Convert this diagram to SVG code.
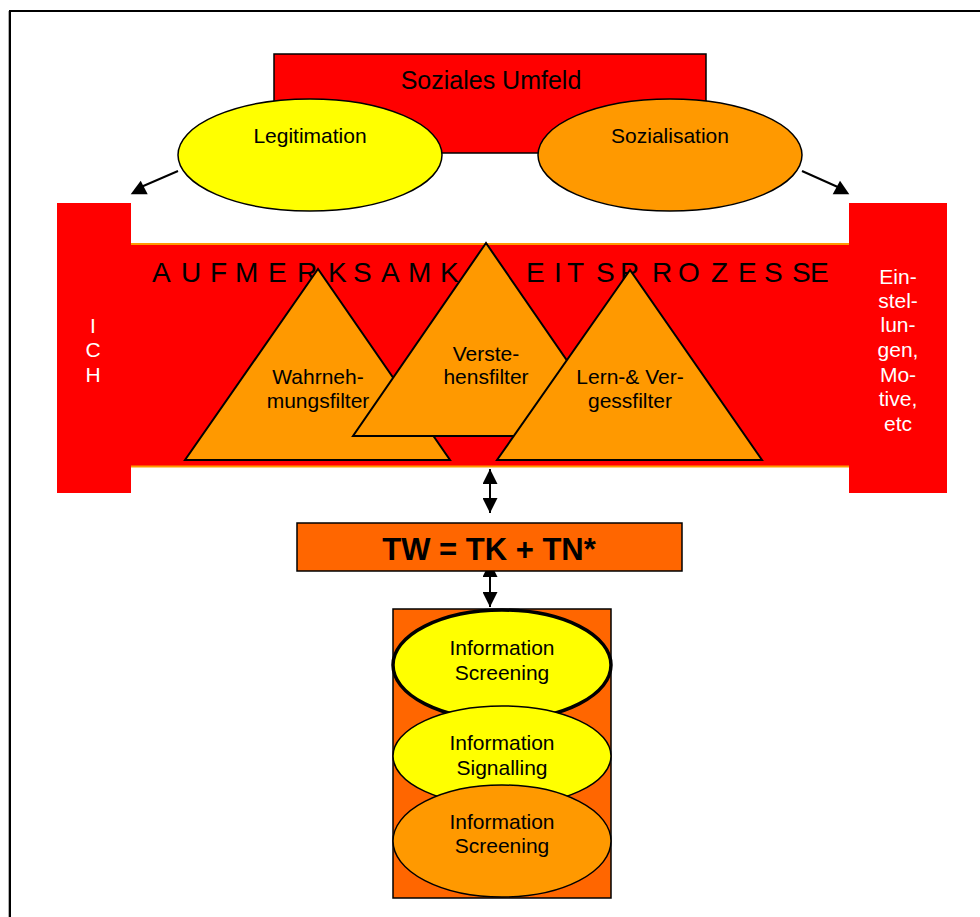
<svg xmlns="http://www.w3.org/2000/svg" width="980" height="917" viewBox="0 0 980 917">
<style>
text{font-family:"Liberation Sans",Arial,sans-serif;fill:#000;}
.c{text-anchor:middle;}
.w{fill:#fff;}
.lbl{font-size:21px;}
.tri{fill:#FF9900;stroke:#000;stroke-width:2;stroke-linejoin:miter;}
.ell{stroke:#000;stroke-width:1.5;}
.conn{stroke:#000;stroke-width:2;fill:none;}
</style>
<defs>
<marker id="ah" viewBox="0 0 10 10" refX="10" refY="5" markerWidth="15" markerHeight="15" markerUnits="userSpaceOnUse" orient="auto-start-reverse">
<path d="M0,0 L10,5 L0,10 z" fill="#000"/>
</marker>
</defs>
<rect width="980" height="917" fill="#fff"/>
<path d="M8.5,917 V11" stroke="#b0b0b0" stroke-width="1" fill="none"/>
<path d="M10,917 V11 H980" stroke="#000" stroke-width="2" fill="none"/>

<g id="connectors">
<line class="conn" x1="178" y1="171" x2="141" y2="187"/>
<polygon points="140.7,180.7 130.7,194.3 147.7,194.3" fill="#000"/>
<line class="conn" x1="802" y1="171" x2="840" y2="188"/>
<polygon points="840,180.7 832.7,194.3 849.3,194.3" fill="#000"/>
<line class="conn" x1="490" y1="469" x2="490" y2="513" marker-start="url(#ah)" marker-end="url(#ah)"/>
<line class="conn" x1="490" y1="562" x2="490" y2="607" marker-start="url(#ah)" marker-end="url(#ah)"/>
</g>

<g id="soziales-umfeld">
<rect x="274" y="54" width="432" height="99" fill="#FF0000" stroke="#000" stroke-width="1.5"/>
<text class="c" x="491" y="89" font-size="25">Soziales Umfeld</text>
</g>
<g id="legitimation">
<ellipse class="ell" cx="310" cy="155" rx="132" ry="56" fill="#FFFF00"/>
<text class="c lbl" x="310" y="143">Legitimation</text>
</g>
<g id="sozialisation">
<ellipse class="ell" cx="670" cy="155" rx="132" ry="56" fill="#FF9900"/>
<text class="c lbl" x="670" y="143">Sozialisation</text>
</g>

<g id="aufmerksamkeitsprozesse">
<rect x="131" y="243" width="718" height="224" fill="#FF0000"/>
<line x1="131" y1="244" x2="849" y2="244" stroke="#FF9900" stroke-width="2"/>
<line x1="131" y1="466.5" x2="849" y2="466.5" stroke="#FF9900" stroke-width="2"/>
<text font-size="28" y="282" x="152 181 210 235 268 297 328 353 381 408 440">AUFMERKSAMK</text>
<text font-size="28" y="282" x="526 554 567 596 620 652 678 711 738 764 792 810">EITSPROZESSE</text>
</g>
<g id="ich">
<rect x="57" y="203" width="74" height="290" fill="#FF0000"/>
<text class="c lbl w" x="93" y="333">I</text>
<text class="c lbl w" x="93" y="357">C</text>
<text class="c lbl w" x="93" y="382">H</text>
</g>
<g id="einstellungen">
<rect x="849" y="203" width="98" height="290" fill="#FF0000"/>
<text class="c lbl w" x="898" y="284">Ein-</text>
<text class="c lbl w" x="898" y="308">stel-</text>
<text class="c lbl w" x="898" y="332">lun-</text>
<text class="c lbl w" x="898" y="357">gen,</text>
<text class="c lbl w" x="898" y="382">Mo-</text>
<text class="c lbl w" x="898" y="406">tive,</text>
<text class="c lbl w" x="898" y="431">etc</text>
</g>

<g id="wahrnehmungsfilter">
<polygon class="tri" points="318,269 185,460 450,460"/>
<text class="c lbl" x="318" y="384">Wahrneh-</text>
<text class="c lbl" x="318" y="408">mungsfilter</text>
</g>
<g id="verstehensfilter">
<polygon class="tri" points="486,243 353,436 619,436"/>
<text class="c lbl" x="486" y="361">Verste-</text>
<text class="c lbl" x="486" y="384">hensfilter</text>
</g>
<g id="lernvergessfilter">
<polygon class="tri" points="630,270 497,460 762,460"/>
<text class="c lbl" x="630" y="384">Lern-&amp; Ver-</text>
<text class="c lbl" x="630" y="408">gessfilter</text>
</g>

<g id="tw">
<rect x="297" y="523" width="385" height="48" fill="#FF6600" stroke="#000" stroke-width="1.5"/>
<text class="c" x="489" y="560" font-size="31" font-weight="bold">TW = TK + TN*</text>
</g>

<g id="information-box">
<rect x="393" y="609" width="218" height="289" fill="#FF6600" stroke="#000" stroke-width="1.5"/>
</g>
<g id="information-screening-1">
<ellipse cx="502" cy="665" rx="109" ry="55" fill="#FFFF00" stroke="#000" stroke-width="3.5"/>
<text class="c lbl" x="502" y="655">Information</text>
<text class="c lbl" x="502" y="680">Screening</text>
</g>
<g id="information-signalling">
<ellipse class="ell" cx="502" cy="756" rx="109" ry="50" fill="#FFFF00"/>
<text class="c lbl" x="502" y="750">Information</text>
<text class="c lbl" x="502" y="775">Signalling</text>
</g>
<g id="information-screening-2">
<ellipse class="ell" cx="502" cy="841" rx="109" ry="56" fill="#FF9900"/>
<text class="c lbl" x="502" y="829">Information</text>
<text class="c lbl" x="502" y="853">Screening</text>
</g>
</svg>
